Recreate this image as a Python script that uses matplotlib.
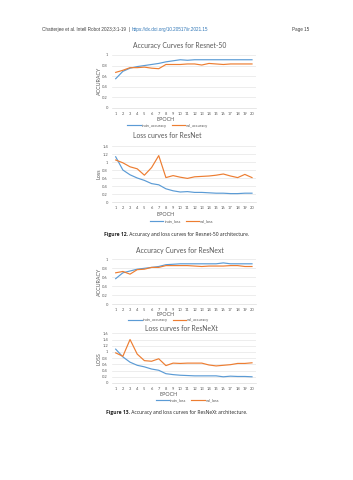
import matplotlib
matplotlib.use("Agg")
from matplotlib import pyplot as plt
from matplotlib.ticker import FuncFormatter

epochs = list(range(1, 21))

# Resnet-50
r50_train_acc = [0.55, 0.69, 0.75, 0.78, 0.80, 0.82, 0.84, 0.87, 0.89, 0.91,
                 0.90, 0.91, 0.91, 0.91, 0.91, 0.91, 0.91, 0.91, 0.91, 0.91]
r50_val_acc = [0.67, 0.71, 0.76, 0.76, 0.77, 0.75, 0.74, 0.82, 0.82, 0.82,
               0.83, 0.83, 0.81, 0.84, 0.83, 0.82, 0.83, 0.83, 0.83, 0.83]
r50_train_loss = [1.13, 0.80, 0.68, 0.60, 0.54, 0.46, 0.43, 0.33, 0.28, 0.25,
                  0.26, 0.24, 0.24, 0.23, 0.22, 0.22, 0.21, 0.21, 0.22, 0.22]
r50_val_loss = [1.05, 0.98, 0.88, 0.83, 0.67, 0.86, 1.16, 0.61, 0.66, 0.62,
                0.59, 0.63, 0.64, 0.65, 0.67, 0.70, 0.65, 0.61, 0.69, 0.61]

# ResNeXt
rnx_train_acc = [0.57, 0.70, 0.74, 0.78, 0.80, 0.82, 0.84, 0.88, 0.89, 0.90,
                 0.90, 0.90, 0.90, 0.90, 0.90, 0.92, 0.90, 0.90, 0.90, 0.90]
rnx_val_acc = [0.70, 0.73, 0.67, 0.77, 0.78, 0.82, 0.82, 0.86, 0.86, 0.86,
               0.86, 0.85, 0.84, 0.85, 0.85, 0.85, 0.86, 0.86, 0.84, 0.84]
rnx_train_loss = [1.09, 0.84, 0.67, 0.57, 0.52, 0.45, 0.41, 0.30, 0.27, 0.25,
                  0.24, 0.23, 0.23, 0.23, 0.23, 0.20, 0.22, 0.21, 0.21, 0.20]
rnx_val_loss = [0.97, 0.86, 1.40, 0.93, 0.72, 0.70, 0.78, 0.56, 0.64, 0.63,
                0.64, 0.64, 0.64, 0.58, 0.55, 0.57, 0.59, 0.63, 0.63, 0.65]

W, H = 353, 480
BLUE = "#5b9bd5"
ORANGE = "#ed7d31"
GREY = "#595959"
FONT = ["Lato", "DejaVu Sans"]

fig = plt.figure(figsize=(W / 100, H / 100), dpi=100)
fig.patch.set_facecolor("white")


def fx(x):
    return x / W


def fy(y):
    return 1 - y / H


def chart(top, bottom, ymax, title, title_xy, ylabel, epoch_xy, leg_xy,
          train, val, names):
    left, width = 112.1, 143.5
    ax = fig.add_axes([fx(left), fy(bottom), width / W, (bottom - top) / H])
    ax.plot(epochs, train, color=BLUE, lw=0.85, label=names[0])
    ax.plot(epochs, val, color=ORANGE, lw=0.85, label=names[1])
    ax.set_xlim(0.5, 20.5)
    ax.set_ylim(0, ymax)
    ax.set_xticks(epochs)
    ax.set_yticks([i * 0.2 for i in range(int(round(ymax / 0.2)) + 1)])
    ax.yaxis.set_major_formatter(FuncFormatter(lambda v, p: f"{v:g}"))
    ax.grid(axis="y", color="#e3e3e3", lw=0.45)
    ax.set_axisbelow(True)
    for s in ["top", "right", "left"]:
        ax.spines[s].set_visible(False)
    ax.spines["bottom"].set_color("#d9d9d9")
    ax.spines["bottom"].set_linewidth(0.45)
    ax.tick_params(length=0, labelsize=2.9, labelcolor=GREY, pad=3)
    for lab in ax.get_xticklabels() + ax.get_yticklabels():
        lab.set_family(FONT)
    fig.text(fx(title_xy[0]), fy(title_xy[1]), title, ha="center", va="center",
             fontsize=4.9, color=GREY, family=FONT)
    fig.text(fx(99), fy((top + bottom) / 2), ylabel, rotation=90, ha="center",
             va="center", fontsize=3.9, color=GREY, family=FONT)
    fig.text(fx(epoch_xy[0]), fy(epoch_xy[1]), "EPOCH", ha="center", va="center",
             fontsize=3.9, color=GREY, family=FONT)
    fig.legend(handles=ax.get_lines(), loc="center", ncol=2, frameon=False,
               bbox_to_anchor=(fx(leg_xy[0]), fy(leg_xy[1])),
               prop={"family": FONT, "size": 2.9}, labelcolor=GREY,
               handlelength=3.3, handletextpad=0.3, columnspacing=1.2)
    return ax


chart(55, 107.7, 1.0, "Accuracy Curves for Resnet-50", (180, 45.7), "ACCURACY",
      (165.6, 119.5), (168, 125.7), r50_train_acc, r50_val_acc,
      ["train_accuracy", "val_accuracy"])
chart(146, 202, 1.4, "Loss curves for ResNet", (167, 135.7), "Loss",
      (166, 214), (182, 221.7), r50_train_loss, r50_val_loss,
      ["train_loss", "val_loss"])
chart(259.3, 304.3, 1.0, "Accuracy Curves for ResNext", (179.5, 251), "ACCURACY",
      (166, 314.3), (169, 320), rnx_train_acc, rnx_val_acc,
      ["train_accuracy", "val_accuracy"])
chart(333.3, 383, 1.6, "Loss curves for ResNeXt", (181.5, 328.3), "LOSS",
      (169, 394.3), (187.5, 400), rnx_train_loss, rnx_val_loss,
      ["train_loss", "val_loss"])

# page header
hdr = ["Liberation Sans", "DejaVu Sans"]
fig.text(fx(42), fy(29.5), "Chatterjee et al. Intell Robot 2023;3:1-19", ha="left",
         va="center", fontsize=3.3, color="#404040", family=hdr)
fig.text(fx(129.5), fy(29.5), "|", ha="center",
         va="center", fontsize=3.3, color="#404040", family=hdr)
fig.text(fx(132), fy(29.5), "https://dx.doi.org/10.20517/ir.2021.15", ha="left",
         va="center", fontsize=3.3, color="#2e75b6", family=hdr)
fig.text(fx(309.5), fy(29.5), "Page 15", ha="right", va="center",
         fontsize=3.3, color="#404040", family=hdr)

# captions
renderer = fig.canvas.get_renderer()


def caption(y, num, rest):
    cap = ["Open Sans", "DejaVu Sans"]
    b = fig.text(0, fy(y), num, ha="left", va="center", fontsize=3.6,
                 fontweight="bold", color="#222222", family=cap)
    r = fig.text(0, fy(y), rest, ha="left", va="center", fontsize=3.6,
                 color="#222222", family=cap)
    wb = b.get_window_extent(renderer).width
    wr = r.get_window_extent(renderer).width
    x0 = (176.5 - (wb + wr) / 2) / W
    b.set_x(x0)
    r.set_x(x0 + wb / W)


caption(234.5, "Figure 12.", " Accuracy and loss curves for Resnet-50 architecture.")
caption(412.3, "Figure 13.", " Accuracy and loss curves for ResNeXt architecture.")

fig.savefig("out.png", dpi=100, facecolor="white")
